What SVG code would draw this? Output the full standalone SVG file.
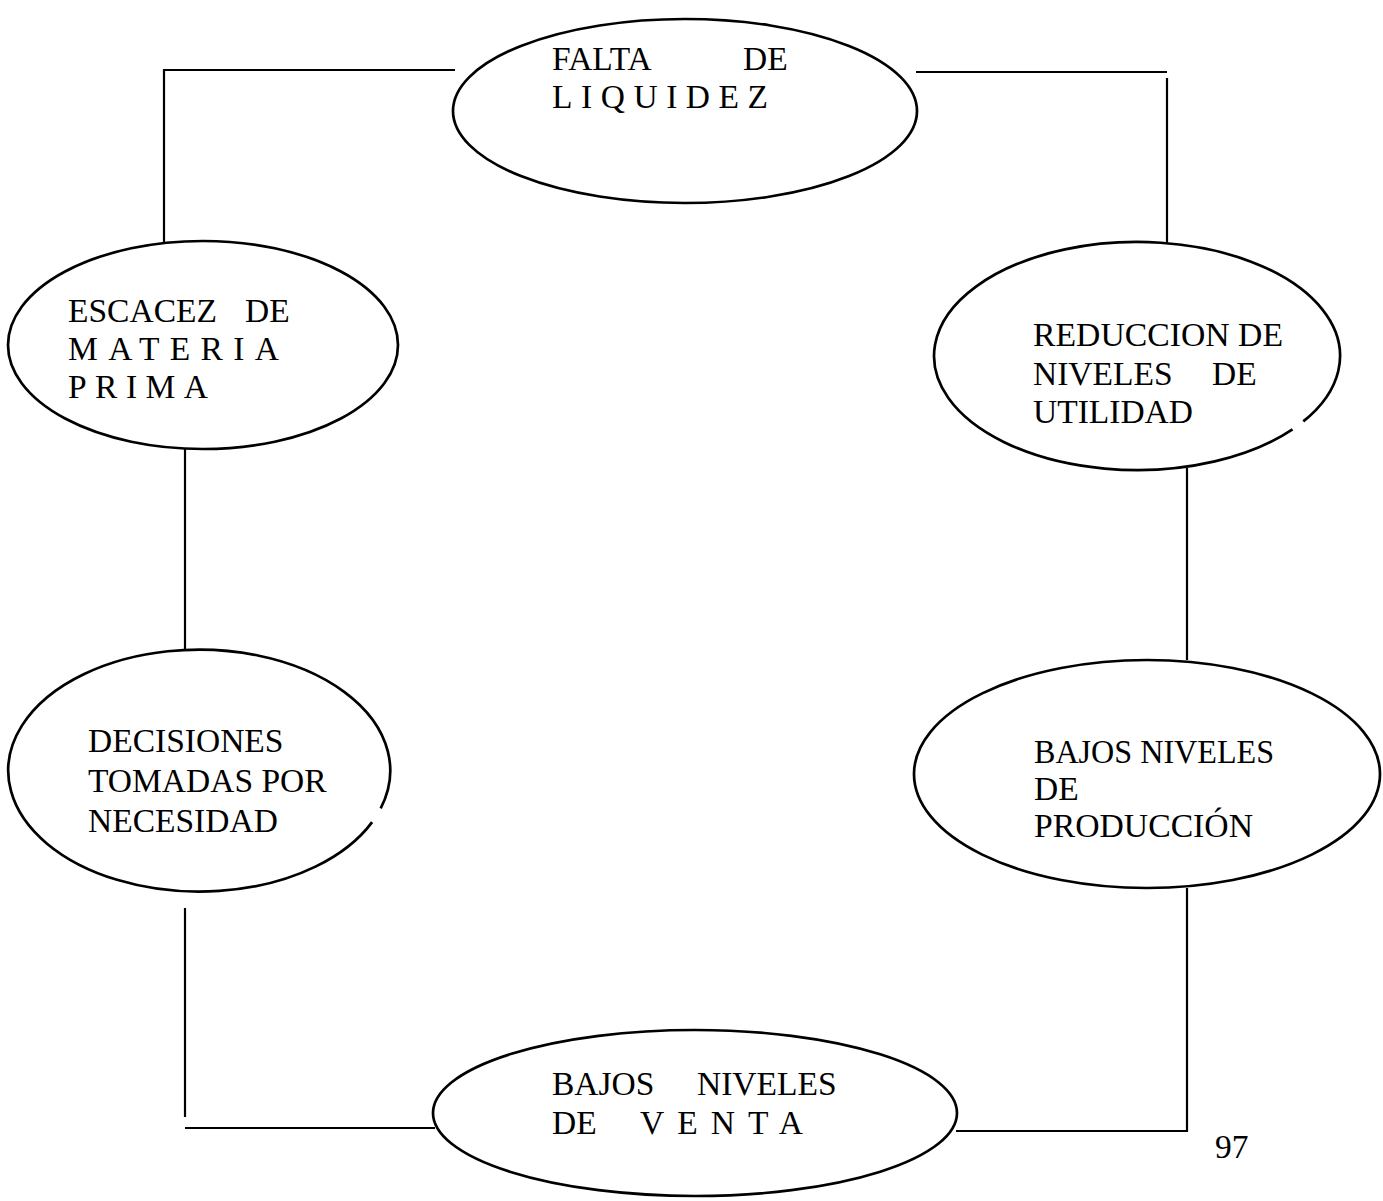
<svg xmlns="http://www.w3.org/2000/svg" width="1383" height="1201" viewBox="0 0 1383 1201">
<style>
.n{fill:none;stroke:#000;stroke-width:2.7}
.c{fill:none;stroke:#000;stroke-width:2.2}
text{font-family:"Liberation Serif","Times New Roman",serif;font-size:33.5px;fill:#000}
</style>
<rect width="1383" height="1201" fill="#fff"/>
<g id="connectors">
<polyline class="c" points="455,70 164,70 164,242"/>
<polyline class="c" points="916,72 1167,72"/>
<line class="c" x1="1167" y1="78" x2="1167" y2="243"/>
<line class="c" x1="185" y1="449" x2="185" y2="650"/>
<line class="c" x1="1187" y1="468" x2="1187" y2="660"/>
<line class="c" x1="185" y1="908" x2="185" y2="1117"/>
<line class="c" x1="185" y1="1128" x2="435" y2="1128"/>
<polyline class="c" points="956,1131 1187,1131 1187,888"/>
</g>
<g id="n-falta">
<ellipse class="n" cx="685" cy="111" rx="232" ry="92"/>
<text x="552" y="70">FALTA <tspan x="743">DE</tspan></text>
<text x="552" y="108" textLength="216" lengthAdjust="spacing">LIQUIDEZ</text>
</g>
<g id="n-escacez">
<ellipse class="n" cx="203" cy="345" rx="195" ry="104"/>
<text x="68" y="322">ESCACEZ <tspan x="245">DE</tspan></text>
<text x="68" y="360" textLength="211" lengthAdjust="spacing">MATERIA</text>
<text x="68" y="398" textLength="140" lengthAdjust="spacing">PRIMA</text>
</g>
<g id="n-reduccion">
<path class="n" d="M 1292.5 429.3 A 203 114 0 1 1 1303.3 421.4"/>
<text x="1033" y="346" textLength="250" lengthAdjust="spacingAndGlyphs">REDUCCION DE</text>
<text x="1033" y="385">NIVELES <tspan x="1212">DE</tspan></text>
<text x="1033" y="423">UTILIDAD</text>
</g>
<g id="n-decisiones">
<path class="n" d="M 372.1 822.1 A 191 121 0 1 1 380.7 808.4"/>
<text x="88" y="752">DECISIONES</text>
<text x="88" y="792">TOMADAS POR</text>
<text x="88" y="832">NECESIDAD</text>
</g>
<g id="n-produccion">
<ellipse class="n" cx="1147" cy="774" rx="233" ry="114"/>
<text x="1034" y="763" textLength="240" lengthAdjust="spacingAndGlyphs">BAJOS NIVELES</text>
<text x="1034" y="800">DE</text>
<text x="1034" y="837" textLength="219" lengthAdjust="spacingAndGlyphs">PRODUCCIÓN</text>
</g>
<g id="n-venta">
<ellipse class="n" cx="695" cy="1113" rx="262" ry="83"/>
<text x="552" y="1095">BAJOS <tspan x="697">NIVELES</tspan></text>
<text x="552" y="1134">DE <tspan x="640" textLength="163" lengthAdjust="spacing">VENTA</tspan></text>
</g>
<text x="1215" y="1158" font-size="31">97</text>
</svg>
